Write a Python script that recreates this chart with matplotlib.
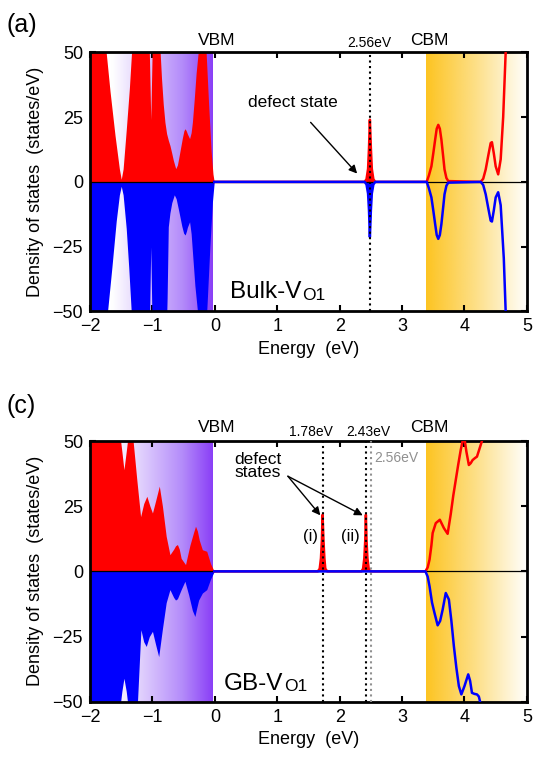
import numpy as np
import matplotlib
matplotlib.use("Agg")
import matplotlib.pyplot as plt
from matplotlib.colors import LinearSegmentedColormap

plt.rcParams['font.family'] = ['Liberation Sans', 'DejaVu Sans']

# ---- data (energy in eV, DOS in states/eV) ----
# (a) Bulk-VO1, spin up
a_up_E = [-2.0, -1.75, -1.68, -1.60, -1.53, -1.50, -1.47, -1.42, -1.37, -1.33, -1.30,
          -1.08, -1.05, -1.027, -1.005, -0.98, -0.90, -0.881, -0.855, -0.827, -0.80,
          -0.773, -0.745, -0.719, -0.69, -0.665, -0.627, -0.60, -0.58, -0.55, -0.52,
          -0.495, -0.476, -0.455, -0.44, -0.405, -0.38, -0.36, -0.33, -0.30, -0.259,
          -0.24, -0.16, -0.14, -0.10, -0.06, -0.03, -0.01,
          2.40, 2.43, 2.455, 2.47, 2.484, 2.50, 2.515, 2.54, 2.57,
          3.395, 3.43, 3.47, 3.50, 3.53, 3.555, 3.58, 3.605, 3.63, 3.66, 3.68, 3.71, 3.74,
          4.26, 4.30, 4.34, 4.38, 4.42, 4.44, 4.47, 4.50, 4.54, 4.58, 4.62, 4.66, 4.68]
a_up_dos = [60, 52, 35, 18, 5, 1, 5, 20, 36, 52, 60,
            60, 50, 24, 50, 60, 60, 52, 40, 30, 23,
            18.6, 16, 14, 11, 8.3, 5.1, 6.5, 9, 13, 17,
            19.8, 20.5, 19.5, 18.5, 16.7, 19, 23, 32, 42, 52,
            60, 60, 50, 30, 12, 3, 0,
            0, 1, 5, 13, 24, 13, 5, 1, 0,
            0, 2.5, 6, 11, 16.3, 20.5, 22, 20.5, 16.3, 9.5, 4.8, 1.5, 0.3,
            0, 1.2, 4.8, 10, 15, 15.3, 11, 6, 2.9, 8.7, 25, 50, 60]

# (a) Bulk-VO1, spin down
a_dn_E = [-2.0, -1.75, -1.72, -1.65, -1.58, -1.53, -1.50, -1.47, -1.42, -1.38, -1.34, -1.32,
          -1.06, -1.045, -1.027, -1.01, -0.99, -0.78, -0.765, -0.746, -0.72, -0.69, -0.65,
          -0.62, -0.58, -0.53, -0.50, -0.476, -0.455, -0.44, -0.405, -0.38, -0.35, -0.32,
          -0.27, -0.25, -0.15, -0.12, -0.08, -0.04, -0.01,
          2.40, 2.43, 2.455, 2.47, 2.484, 2.50, 2.515, 2.54, 2.57,
          3.395, 3.43, 3.47, 3.50, 3.53, 3.555, 3.58, 3.605, 3.63, 3.66, 3.68, 3.71, 3.74,
          4.26, 4.30, 4.34, 4.38, 4.42, 4.44, 4.47, 4.50, 4.54, 4.58, 4.63, 4.66, 4.68]
a_dn_dos = [-60, -52, -50, -33, -15, -5, -1.7, -5, -18, -33, -50, -60,
            -60, -50, -25, -50, -60, -60, -45, -17.3, -12, -8, -5,
            -6.5, -11, -17, -19.8, -20.5, -19, -17.5, -15.4, -20, -30, -40,
            -52, -60, -60, -45, -25, -8, 0,
            0, -1, -4.5, -11, -21.3, -11, -4.5, -1, 0,
            0, -2.5, -6, -11, -16.3, -20.5, -22, -20.5, -16.3, -9.5, -4.8, -1.5, -0.3,
            0, -1.2, -4.8, -10, -15, -15.3, -11, -6, -4, -9, -29.5, -50, -60]

# (c) GB-VO1, spin up
c_up_E = [-2.0, -1.52, -1.49, -1.457, -1.42, -1.39, -1.31, -1.25, -1.19, -1.14, -1.09,
          -1.04, -1.00, -0.95, -0.89, -0.84, -0.78, -0.72, -0.66, -0.63, -0.60, -0.57,
          -0.54, -0.47, -0.40, -0.34, -0.31, -0.28, -0.25, -0.20, -0.13, -0.07, -0.01,
          1.65, 1.68, 1.70, 1.715, 1.726, 1.74, 1.755, 1.77, 1.80,
          2.35, 2.375, 2.395, 2.41, 2.42, 2.43, 2.445, 2.465, 2.49,
          3.374, 3.41, 3.44, 3.47, 3.49, 3.54, 3.605, 3.67, 3.73, 3.78, 3.82, 3.86,
          3.90, 3.94, 3.97, 4.00, 4.03, 4.07, 4.10, 4.13, 4.17, 4.20, 4.24, 4.28, 4.31]
c_up_dos = [60, 52, 46, 39, 46, 52, 50, 35, 21, 26, 28.8,
            25, 22.4, 27, 32.7, 25, 13.5, 6.4, 8.5, 9.8, 10.3, 8.5,
            5, 2.6, 10, 15, 17.3, 15.5, 12, 8.3, 7.7, 3, 0,
            0, 1, 5, 12, 21.7, 12, 5, 1, 0,
            0, 1, 5, 12, 21.7, 12, 5, 1, 0,
            0, 1.5, 4.5, 10, 14.7, 18.5, 19.8, 16.6, 14.4, 22, 29, 35,
            41, 46.6, 50, 51, 46, 40.8, 41.5, 42.7, 43.5, 44, 47, 50, 55]

# (c) GB-VO1, spin down
c_dn_E = [-2.0, -1.52, -1.49, -1.457, -1.42, -1.39, -1.24, -1.185, -1.14, -1.10, -1.05,
          -1.00, -0.95, -0.90, -0.84, -0.78, -0.72, -0.66, -0.63, -0.60, -0.54, -0.48,
          -0.42, -0.36, -0.32, -0.29, -0.26, -0.20, -0.13, -0.07, -0.01,
          3.374, 3.41, 3.44, 3.48, 3.52, 3.57, 3.61, 3.65, 3.70, 3.75, 3.79, 3.83,
          3.87, 3.91, 3.95, 4.00, 4.06, 4.09, 4.12, 4.16, 4.20, 4.23, 4.25, 4.27]
c_dn_dos = [-60, -52, -46, -41, -46, -52, -50, -22.4, -27, -28.8, -25,
            -23, -28, -32.7, -22, -12, -7, -10, -11, -10.5, -7, -3.8,
            -9, -15, -17.3, -14, -11, -8.3, -7, -3, 0,
            0, -2, -5.7, -12, -16, -20.7, -19, -14.7, -8.3, -10.8, -19, -28.7,
            -37, -44, -47.2, -44, -39.5, -42, -46.6, -47, -47.2, -48, -50, -55]

x_ticks = [-2, -1, 0, 1, 2, 3, 4, 5]
x_labels = ['\u22122', '\u22121', '0', '1', '2', '3', '4', '5']
y_ticks = [-50, -25, 0, 25, 50]
y_labels = ['\u221250', '\u221225', '0', '25', '50']

RED = '#ff0000'
BLUE = '#0000ff'

purple_cmap = LinearSegmentedColormap.from_list(
    'vb', [(0.0, '#ffffff'), (0.18, '#ffffff'), (0.75, '#b48cfa'), (1.0, '#8a3ff6')])
gold_cmap = LinearSegmentedColormap.from_list(
    'cb', [(0.0, '#fdc422'), (0.5, '#fde08a'), (1.0, '#ffffff')])


def draw_panel(ax, up_E, up_dos, dn_E, dn_dos, defect_ranges):
    grad = np.linspace(0, 1, 256).reshape(1, -1)
    ax.imshow(grad, extent=[-2, -0.03, -50, 50], aspect='auto', cmap=purple_cmap, zorder=0)
    ax.imshow(grad, extent=[3.38, 5, -50, 50], aspect='auto', cmap=gold_cmap, zorder=0)

    for E, dos, c in [(up_E, up_dos, RED), (dn_E, dn_dos, BLUE)]:
        E = np.array(E)
        dos = np.array(dos)
        mask = E <= 0
        for lo, hi in defect_ranges:
            mask |= (E >= lo) & (E <= hi)
        ax.fill_between(E, 0, dos, where=mask, color=c, lw=0, zorder=2)
        line = E >= -0.01
        ax.plot(E[line], dos[line], color=c, lw=1.8, zorder=3)

    ax.axhline(0, color='k', lw=0.9, zorder=2.5)
    ax.set_xlim(-2, 5)
    ax.set_ylim(-50, 50)
    ax.set_xticks(x_ticks)
    ax.set_xticklabels(x_labels)
    ax.set_yticks(y_ticks)
    ax.set_yticklabels(y_labels)
    ax.tick_params(direction='in', top=True, right=True, length=4, width=1.5,
                   labelsize=13, pad=5)
    for s in ax.spines.values():
        s.set_linewidth(2)
    ax.set_xlabel('Energy  (eV)', fontsize=13, labelpad=4)
    ax.set_ylabel('Density of states  (states/eV)', fontsize=13, labelpad=6)


fig = plt.figure(figsize=(5.36, 7.69), dpi=100)
ax1 = fig.add_axes([0.168, 0.595, 0.815, 0.337])
ax2 = fig.add_axes([0.168, 0.0875, 0.815, 0.339])


def vo_label(ax, x, y, prefix):
    # "X-V" in big type, then a smaller "O1" right after it, nearly on the same baseline
    t = ax.text(x, y, prefix, ha='left', va='baseline', fontsize=17.5)
    fig.canvas.draw()
    bb = t.get_window_extent()
    x_end = ax.transData.inverted().transform((bb.x1, bb.y0))[0]
    ax.text(x_end + 0.01, y - 0.6, 'O1', ha='left', va='baseline', fontsize=12.5)


# ---- (a) ----
draw_panel(ax1, a_up_E, a_up_dos, a_dn_E, a_dn_dos, [(2.35, 2.62)])
ax1.axvline(2.484, color='k', ls=':', lw=1.5, zorder=4)
ax1.text(0.03, 54.5, 'VBM', ha='center', va='center', fontsize=12.5, clip_on=False)
ax1.text(3.43, 54.5, 'CBM', ha='center', va='center', fontsize=12.5, clip_on=False)
ax1.text(2.47, 53.5, '2.56eV', ha='center', va='center', fontsize=10, clip_on=False)
ax1.annotate('defect state', xy=(2.28, 3.2), xytext=(1.25, 30.5), ha='center',
             va='center', fontsize=12.5,
             arrowprops=dict(arrowstyle='-|>', color='k', lw=1, mutation_scale=12,
                             shrinkA=9, shrinkB=0))
vo_label(ax1, 0.24, -45, 'Bulk-V')
fig.text(0.012, 0.967, '(a)', fontsize=18, ha='left', va='center')

# ---- (c) ----
draw_panel(ax2, c_up_E, c_up_dos, c_dn_E, c_dn_dos, [(1.6, 1.85), (2.3, 2.55)])
ax2.axvline(1.726, color='k', ls=':', lw=1.5, zorder=4)
ax2.axvline(2.42, color='k', ls=':', lw=1.5, zorder=4)
ax2.axvline(2.50, color='#909090', ls=':', lw=1.5, zorder=4)
ax2.text(0.03, 55, 'VBM', ha='center', va='center', fontsize=12.5, clip_on=False)
ax2.text(3.44, 55, 'CBM', ha='center', va='center', fontsize=12.5, clip_on=False)
ax2.text(1.54, 53.5, '1.78eV', ha='center', va='center', fontsize=10, clip_on=False)
ax2.text(2.46, 53.5, '2.43eV', ha='center', va='center', fontsize=10, clip_on=False)
ax2.text(2.55, 43.5, '2.56eV', ha='left', va='center', fontsize=10, color='#909090')
ax2.text(0.69, 40.5, 'defect\nstates', ha='center', va='center', fontsize=12.5,
         linespacing=0.85)
for tip in [(1.69, 21.5), (2.37, 21.5)]:
    ax2.annotate('', xy=tip, xytext=(1.17, 36.5),
                 arrowprops=dict(arrowstyle='-|>', color='k', lw=1, mutation_scale=12,
                                 shrinkA=0, shrinkB=0))
ax2.text(1.54, 13.4, '(i)', ha='center', va='center', fontsize=12)
ax2.text(2.17, 13.4, '(ii)', ha='center', va='center', fontsize=12)
vo_label(ax2, 0.15, -45.4, 'GB-V')
fig.text(0.012, 0.472, '(c)', fontsize=18, ha='left', va='center')

fig.savefig('out.png', dpi=100)
